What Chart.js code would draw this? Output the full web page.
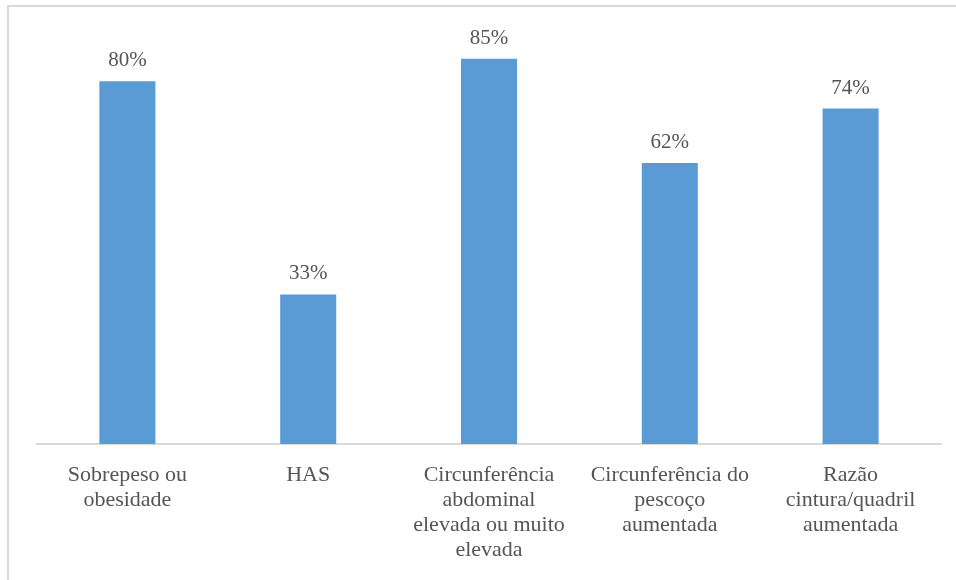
<!DOCTYPE html>
<html lang="pt">
<head>
    <meta charset="UTF-8"/>
    <title>Fatores de risco</title>
    <script src="https://cdn.jsdelivr.net/npm/chart.js"></script>
    <style>
        html, body {
            margin: 0;
            padding: 0;
            background-color: #fff;
            width: 956px;
            height: 580px;
            overflow: hidden;
        }

        .chart-wrapper {
            position: relative;
            width: 956px;
            height: 580px;
        }

        .frame {
            position: absolute;
            left: 7px;
            top: 5px;
            width: 1000px;
            height: 1000px;
            border-left: 2px solid #d9d9d9;
            border-top: 2px solid #d9d9d9;
            pointer-events: none;
        }
    </style>
</head>
<body>
<div class="chart-wrapper">
    <canvas id="riskChart" width="956" height="580"></canvas>
    <div class="frame"></div>
</div>

<script>
    const categories = [
        ['Sobrepeso ou', 'obesidade'],
        ['HAS'],
        ['Circunferência', 'abdominal', 'elevada ou muito', 'elevada'],
        ['Circunferência do', 'pescoço', 'aumentada'],
        ['Razão', 'cintura/quadril', 'aumentada']
    ];
    const percentages = [80, 33, 85, 62, 74];
    const yMin = 0;
    const yMax = 90;

    const textColor = '#555555';
    const serif = "'Liberation Serif', 'Times New Roman', serif";

    // rótulos de valor acima das barras
    const valueLabels = {
        id: 'valueLabels',
        afterDatasetsDraw(chart) {
            const ctx = chart.ctx;
            const meta = chart.getDatasetMeta(0);
            ctx.save();
            ctx.font = `21px ${serif}`;
            ctx.fillStyle = textColor;
            ctx.textAlign = 'center';
            ctx.textBaseline = 'alphabetic';
            meta.data.forEach((bar, i) => {
                ctx.fillText(percentages[i] + '%', bar.x, bar.y - 15);
            });
            ctx.restore();
        }
    };

    new Chart(document.getElementById('riskChart').getContext('2d'), {
        type: 'bar',
        data: {
            labels: categories,
            datasets: [{
                data: percentages,
                backgroundColor: '#5b9bd5',
                borderWidth: 0,
                categoryPercentage: 1,
                barPercentage: 0.31
            }]
        },
        options: {
            responsive: false,
            animation: false,
            layout: {
                padding: { left: 37, right: 15, top: 36, bottom: 0 }
            },
            scales: {
                x: {
                    grid: { display: false, drawTicks: false },
                    border: { display: true, color: '#d9d9d9', width: 2 },
                    ticks: {
                        color: textColor,
                        font: { family: serif, size: 22, lineHeight: 1.136 },
                        padding: 19,
                        autoSkip: false,
                        maxRotation: 0,
                        minRotation: 0
                    },
                    afterFit: scale => { scale.height = 136; }
                },
                y: {
                    display: false,
                    min: yMin,
                    max: yMax
                }
            },
            plugins: {
                legend: { display: false },
                tooltip: { enabled: false }
            }
        },
        plugins: [valueLabels]
    });
</script>
</body>
</html>
